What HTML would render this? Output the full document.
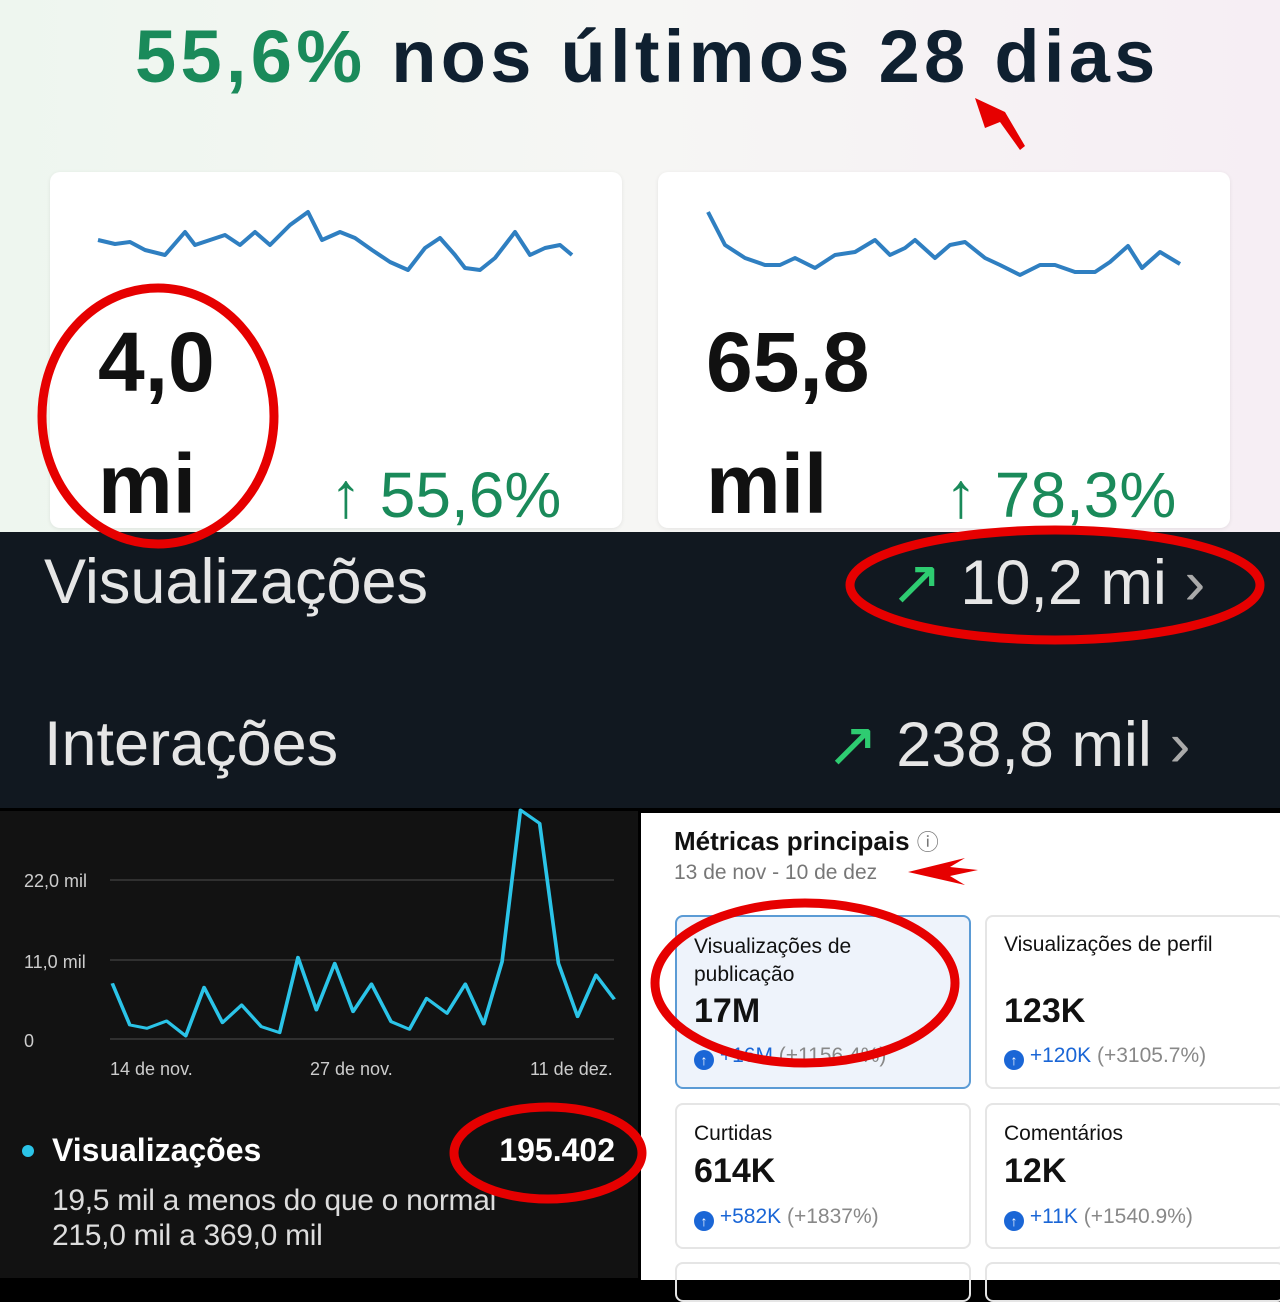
<!DOCTYPE html>
<html><head><meta charset="utf-8"><style>
*{margin:0;padding:0;box-sizing:border-box}
body{width:1280px;height:1280px;position:relative;overflow:hidden;background:#000;font-family:"Liberation Sans",sans-serif}
.a{position:absolute;white-space:nowrap}
.ic{display:inline-block;width:20px;height:20px;border-radius:50%;background:#1a66d6;color:#fff;font-size:14px;line-height:20px;text-align:center;vertical-align:-3px;font-weight:bold}
</style></head><body>
<div class="a" style="left:0;top:0;width:1280px;height:532px;background:linear-gradient(90deg,#eef6ef 0%,#f6f6f4 50%,#f6eef4 100%)"></div>
<div class="a" style="left:135px;top:14px;font-size:74px;font-weight:bold;color:#0f2030;letter-spacing:4.3px"><span style="color:#1a8a5a">55,6%</span> nos últimos 28 dias</div>
<div class="a" style="left:50px;top:172px;width:572px;height:356px;background:#fff;border-radius:10px;box-shadow:0 1px 4px rgba(0,0,0,.08)"></div>
<div class="a" style="left:658px;top:172px;width:572px;height:356px;background:#fff;border-radius:10px;box-shadow:0 1px 4px rgba(0,0,0,.08)"></div>
<div class="a" style="left:98px;top:314px;font-size:84px;font-weight:bold;color:#111">4,0</div>
<div class="a" style="left:98px;top:436px;font-size:84px;font-weight:bold;color:#111">mi</div>
<div class="a" style="left:330px;top:458px;font-size:64px;color:#1a8a5a">↑ 55,6%</div>
<div class="a" style="left:706px;top:314px;font-size:84px;font-weight:bold;color:#111">65,8</div>
<div class="a" style="left:706px;top:436px;font-size:84px;font-weight:bold;color:#111">mil</div>
<div class="a" style="left:945px;top:458px;font-size:64px;color:#1a8a5a">↑ 78,3%</div>
<div class="a" style="left:0;top:532px;width:1280px;height:276px;background:#111820"></div>
<div class="a" style="left:44px;top:546px;font-size:63px;color:#e6e6e6">Visualizações</div>
<div class="a" style="left:890px;top:546px;font-size:63px;color:#e6e6e6"><span style="color:#2ecc71">↗</span> 10,2 mi <span style="color:#aaa">›</span></div>
<div class="a" style="left:44px;top:708px;font-size:63px;color:#e6e6e6">Interações</div>
<div class="a" style="left:826px;top:708px;font-size:63px;color:#e6e6e6"><span style="color:#2ecc71">↗</span> 238,8 mil <span style="color:#aaa">›</span></div>
<div class="a" style="left:0;top:811px;width:638px;height:467px;background:#121212"></div>
<div class="a" style="left:24px;top:871px;font-size:18px;color:#ccc">22,0 mil</div>
<div class="a" style="left:24px;top:952px;font-size:18px;color:#ccc">11,0 mil</div>
<div class="a" style="left:24px;top:1031px;font-size:18px;color:#ccc">0</div>
<div class="a" style="left:110px;top:1059px;font-size:18px;color:#ccc">14 de nov.</div>
<div class="a" style="left:310px;top:1059px;font-size:18px;color:#ccc">27 de nov.</div>
<div class="a" style="left:530px;top:1059px;font-size:18px;color:#ccc">11 de dez.</div>
<div class="a" style="left:22px;top:1145px;width:12px;height:12px;border-radius:50%;background:#2bc4e8"></div>
<div class="a" style="left:52px;top:1132px;font-size:32px;font-weight:bold;color:#fff">Visualizações</div>
<div class="a" style="right:665px;top:1132px;font-size:32px;font-weight:bold;color:#fff">195.402</div>
<div class="a" style="left:52px;top:1184px;font-size:30px;color:#ddd;letter-spacing:-0.3px">19,5 mil a menos do que o normal</div>
<div class="a" style="left:52px;top:1219px;font-size:30px;color:#ddd;letter-spacing:-0.3px">215,0 mil a 369,0 mil</div>
<div class="a" style="left:641px;top:813px;width:639px;height:467px;background:#fff"></div>
<div class="a" style="left:674px;top:825px;font-size:26px;font-weight:bold;color:#111">Métricas principais <span style="font-weight:normal;color:#777;font-size:22px">ⓘ</span></div>
<div class="a" style="left:674px;top:861px;font-size:21px;color:#777">13 de nov - 10 de dez</div>
<div class="a" style="left:675px;top:915px;width:296px;height:174px;border:2px solid #5b9bd5;border-radius:8px;background:#eef3fb"></div>
<div class="a" style="left:985px;top:915px;width:300px;height:174px;border:2px solid #e5e5e5;border-radius:8px"></div>
<div class="a" style="left:675px;top:1103px;width:296px;height:146px;border:2px solid #e5e5e5;border-radius:8px"></div>
<div class="a" style="left:985px;top:1103px;width:300px;height:146px;border:2px solid #e5e5e5;border-radius:8px"></div>
<div class="a" style="left:675px;top:1262px;width:296px;height:40px;border:2px solid #e5e5e5;border-radius:8px"></div>
<div class="a" style="left:985px;top:1262px;width:300px;height:40px;border:2px solid #e5e5e5;border-radius:8px"></div>
<div class="a" style="left:694px;top:933px;font-size:21px;line-height:28px;color:#111">Visualizações de<br>publicação</div>
<div class="a" style="left:694px;top:992px;font-size:34px;font-weight:bold;color:#111">17M</div>
<div class="a" style="left:694px;top:1044px;font-size:21px;color:#1a66d6"><span class="ic">↑</span> +16M <span style="color:#888">(+1156.4%)</span></div>
<div class="a" style="left:1004px;top:933px;font-size:21px;color:#111">Visualizações de perfil</div>
<div class="a" style="left:1004px;top:992px;font-size:34px;font-weight:bold;color:#111">123K</div>
<div class="a" style="left:1004px;top:1044px;font-size:21px;color:#1a66d6"><span class="ic">↑</span> +120K <span style="color:#888">(+3105.7%)</span></div>
<div class="a" style="left:694px;top:1122px;font-size:21px;color:#111">Curtidas</div>
<div class="a" style="left:694px;top:1152px;font-size:34px;font-weight:bold;color:#111">614K</div>
<div class="a" style="left:694px;top:1205px;font-size:21px;color:#1a66d6"><span class="ic">↑</span> +582K <span style="color:#888">(+1837%)</span></div>
<div class="a" style="left:1004px;top:1122px;font-size:21px;color:#111">Comentários</div>
<div class="a" style="left:1004px;top:1152px;font-size:34px;font-weight:bold;color:#111">12K</div>
<div class="a" style="left:1004px;top:1205px;font-size:21px;color:#1a66d6"><span class="ic">↑</span> +11K <span style="color:#888">(+1540.9%)</span></div>
<svg class="a" style="left:0;top:0" width="1280" height="1280">
<g fill="none" stroke="#2f7fc1" stroke-width="4" stroke-linejoin="round">
<polyline points="98,240 115,244 130,242 145,250 165,255 185,232 195,245 210,240 225,235 240,245 255,232 270,245 290,225 308,212 322,240 340,232 355,238 372,250 390,262 408,270 425,248 440,238 455,255 465,268 480,270 495,258 515,232 530,255 545,248 560,245 572,255"/>
<polyline points="708,212 725,245 745,258 765,265 780,265 795,258 815,268 835,255 855,252 875,240 890,255 905,248 915,240 935,258 950,245 965,242 985,258 1000,265 1020,275 1040,265 1055,265 1075,272 1095,272 1110,262 1128,246 1142,268 1160,252 1180,264"/>
</g>
<g stroke="#3a3a3a" stroke-width="1.5"><line x1="110" y1="880" x2="614" y2="880"/><line x1="110" y1="960" x2="614" y2="960"/><line x1="110" y1="1039" x2="614" y2="1039"/></g>
<g transform="translate(0,800) scale(0.4082,0.3333)"><polyline fill="none" stroke="#2bc4e8" stroke-width="9" stroke-linejoin="round" points="275,550 318,675 360,685 408,663 455,708 500,562 545,668 592,615 640,680 685,698 730,472 775,630 820,490 865,635 910,552 958,665 1003,688 1045,595 1095,640 1140,552 1185,672 1230,485 1275,30 1322,70 1368,490 1415,650 1460,525 1505,598"/></g>
<g fill="none" stroke="#e60000" stroke-width="9">
<ellipse cx="158" cy="416" rx="116" ry="128"/>
<ellipse cx="1055" cy="585" rx="205" ry="55"/>
<ellipse cx="548" cy="1153" rx="94" ry="46"/>
<ellipse cx="805" cy="983" rx="150" ry="80"/>
</g>
<g fill="#e60000">
<polygon points="975,98 1005,112 1025,146 1020,150 1000,122 985,128"/>
<polygon points="908,872 965,858 950,867 978,870 950,876 965,885"/>
</g>
</svg>
</body></html>
